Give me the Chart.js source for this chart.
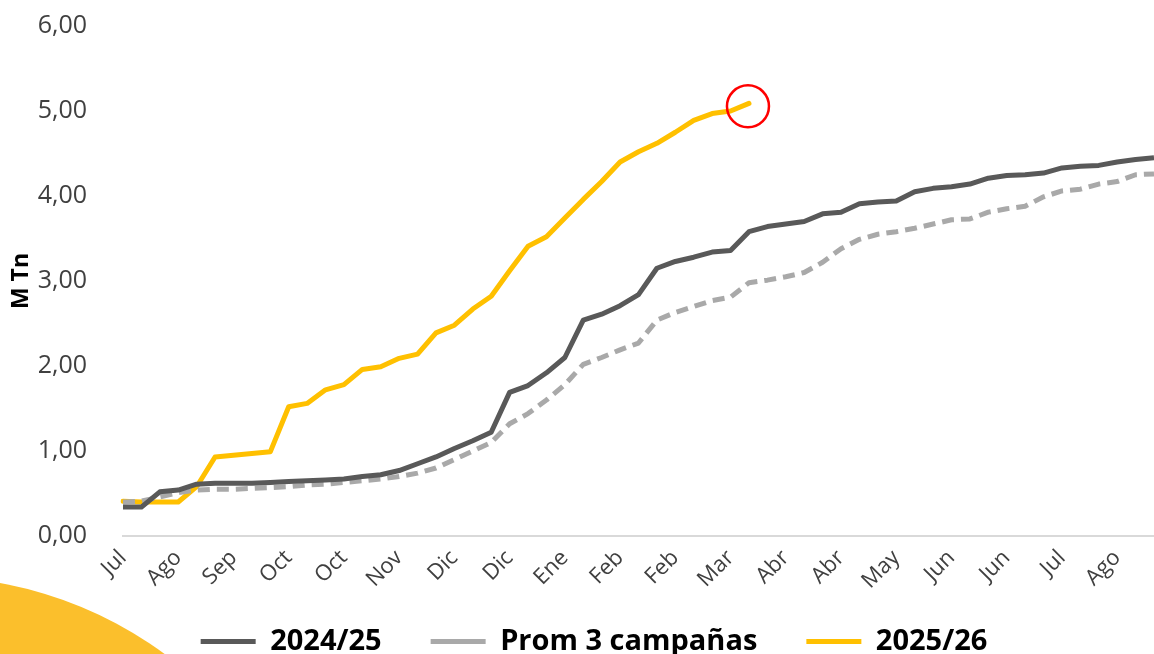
<!DOCTYPE html>
<html>
<head>
<meta charset="utf-8">
<script src="https://cdn.jsdelivr.net/npm/chart.js@4.4.1/dist/chart.umd.min.js"></script>
<style>
  html, body { margin: 0; padding: 0; background: #ffffff; overflow: hidden; }
  #wrap { position: relative; width: 1154px; height: 654px; }
</style>
</head>
<body>
<div id="wrap"><canvas id="c"></canvas></div>
<script>
// Weekly categories (57 weeks, July to August)
const categories = ['Jul','Jul','Jul','Ago','Ago','Ago','Sep','Sep','Sep','Oct','Oct','Oct','Oct','Oct','Oct','Nov','Nov','Nov','Dic','Dic','Dic','Dic','Dic','Dic','Ene','Ene','Ene','Feb','Feb','Feb','Feb','Feb','Feb','Mar','Mar','Mar','Abr','Abr','Abr','Abr','Abr','Abr','May','May','May','Jun','Jun','Jun','Jun','Jun','Jun','Jul','Jul','Jul','Ago','Ago','Ago'];

// Tick labels shown every third week
const tickLabels = ['Jul','Ago','Sep','Oct','Oct','Nov','Dic','Dic','Ene','Feb','Feb','Mar','Abr','Abr','May','Jun','Jun','Jul','Ago'];

// Series (M Tn)
const serie2425 = [0.34,0.34,0.52,0.54,0.61,0.62,0.62,0.62,0.63,0.64,0.65,0.66,0.67,0.70,0.72,0.77,0.85,0.93,1.03,1.12,1.22,1.69,1.77,1.92,2.10,2.54,2.61,2.71,2.84,3.15,3.23,3.28,3.34,3.36,3.58,3.64,3.67,3.70,3.79,3.81,3.91,3.93,3.94,4.05,4.09,4.11,4.14,4.21,4.24,4.25,4.27,4.33,4.35,4.36,4.40,4.43,4.45];

const prom3 = [0.40,0.41,0.46,0.51,0.54,0.55,0.55,0.56,0.57,0.58,0.60,0.61,0.63,0.65,0.67,0.70,0.74,0.80,0.90,1.00,1.10,1.32,1.44,1.60,1.78,2.02,2.10,2.19,2.27,2.54,2.63,2.70,2.77,2.81,2.98,3.01,3.05,3.10,3.22,3.38,3.49,3.55,3.58,3.62,3.67,3.72,3.73,3.81,3.85,3.88,3.99,4.06,4.08,4.14,4.17,4.25,4.26];

const serie2526 = [0.41,0.40,0.40,0.40,0.58,0.93,0.95,0.97,0.99,1.52,1.56,1.72,1.78,1.96,1.99,2.09,2.14,2.39,2.48,2.67,2.82,3.12,3.41,3.52,3.74,3.96,4.17,4.40,4.52,4.62,4.75,4.89,4.97,5.00,5.09];

const seriesNames = ['2024/25', 'Prom 3 campañas', '2025/26'];
const yTicks = [0, 1, 2, 3, 4, 5, 6];

const FONT = "'Open Sans', 'DejaVu Sans', sans-serif";

const decoPlugin = {
  id: 'deco',
  beforeDraw(chart) {
    const ctx = chart.ctx;
    ctx.save();
    ctx.fillStyle = '#FBBF2C';
    ctx.beginPath();
    ctx.arc(-69, 970, 393, 0, Math.PI * 2);
    ctx.fill();
    ctx.restore();
  },
  afterLayout(chart) {
    const lg = chart.legend;
    if (lg) {
      const h = lg.bottom - lg.top;
      lg.top = 578;
      lg.bottom = 578 + h;
      lg.left += 17;
      lg.right += 17;
    }
  },
  afterDatasetsDraw(chart) {
    const meta = chart.getDatasetMeta(2);
    const pts = meta.data;
    if (!pts.length) return;
    const p = pts[pts.length - 1];
    const ctx = chart.ctx;
    ctx.save();
    ctx.strokeStyle = '#FF0000';
    ctx.lineWidth = 2.5;
    ctx.beginPath();
    ctx.arc(p.x - 1, p.y + 3, 21, 0, Math.PI * 2);
    ctx.stroke();
    ctx.restore();
  }
};

new Chart(document.getElementById('c'), {
  type: 'line',
  data: {
    labels: categories,
    datasets: [
      {
        label: seriesNames[0],
        data: serie2425,
        borderColor: '#595959',
        backgroundColor: '#595959',
        borderWidth: 5,
        pointRadius: 0,
        tension: 0,
        borderJoinStyle: 'round'
      },
      {
        label: seriesNames[1],
        data: prom3,
        borderColor: '#A9A9A9',
        backgroundColor: '#A9A9A9',
        borderWidth: 5,
        borderDash: [12, 7],
        pointRadius: 0,
        tension: 0,
        borderJoinStyle: 'round'
      },
      {
        label: seriesNames[2],
        data: serie2526,
        borderColor: '#FFC000',
        backgroundColor: '#FFC000',
        borderWidth: 5,
        pointRadius: 0,
        tension: 0,
        borderJoinStyle: 'round',
        borderCapStyle: 'round'
      }
    ]
  },
  options: {
    responsive: true,
    maintainAspectRatio: false,
    animation: false,
    layout: { padding: { top: 26, left: 0, right: 0, bottom: -30 } },
    plugins: {
      tooltip: { enabled: false },
      legend: {
        position: 'bottom',
        align: 'center',
        labels: {
          usePointStyle: true,
          pointStyle: 'line',
          pointStyleWidth: 55,
          padding: 49,
          color: '#000000',
          font: { family: FONT, size: 29, weight: 'bold' }
        }
      }
    },
    scales: {
      x: {
        grid: { display: false, drawTicks: false },
        border: { display: true, color: '#D9D9D9', width: 2 },
        afterFit(s) { s.height = 60; s.paddingLeft = 0; s.paddingRight = 0; },
        ticks: {
          autoSkip: false,
          minRotation: 45,
          maxRotation: 45,
          padding: 9,
          color: '#404040',
          font: { family: FONT, size: 22 },
          callback(value, index) { return index % 3 === 0 ? tickLabels[index / 3] : ''; }
        }
      },
      y: {
        min: yTicks[0],
        max: yTicks[yTicks.length - 1],
        afterFit(s) { s.width = 123; s.paddingTop = 0; s.paddingBottom = 0; },
        afterBuildTicks(s) { s.ticks = yTicks.map(v => ({ value: v })); },
        grid: { display: false, drawTicks: false },
        border: { display: false },
        title: {
          display: true,
          text: 'M Tn',
          color: '#000000',
          font: { family: FONT, size: 23, weight: 'bold' },
          padding: { top: 8, bottom: 0 }
        },
        ticks: {
          padding: 36,
          color: '#404040',
          font: { family: FONT, size: 25 },
          callback(v) { return v.toFixed(2).replace('.', ','); }
        }
      }
    }
  },
  plugins: [decoPlugin]
});
</script>
</body>
</html>
